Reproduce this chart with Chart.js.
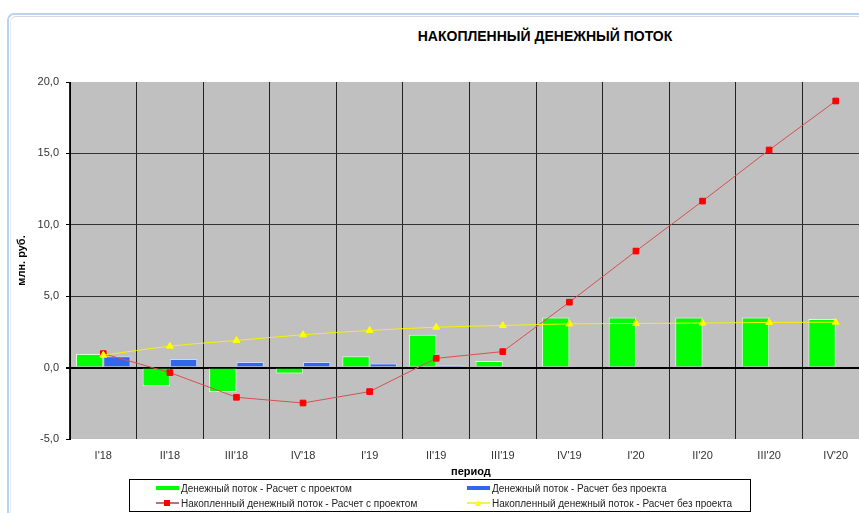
<!DOCTYPE html>
<html>
<head>
<meta charset="utf-8">
<script src="https://cdn.jsdelivr.net/npm/chart.js@4"></script>
<style>
    html, body { margin: 0; padding: 0; background: #fff; overflow: hidden; width: 859px; height: 513px; }
    #wrap { position: relative; width: 859px; height: 513px; overflow: hidden; font-family: "Liberation Sans", Arial, sans-serif; }
    #frame { position: absolute; left: 7px; top: 13px; width: 900px; height: 520px; border-top: 2px solid #b9d3ee; border-left: 2px solid #b9d3ee; border-top-left-radius: 7px; }
    #frame-inner { position: absolute; left: 10px; top: 16px; width: 900px; height: 520px; border-top: 1px solid #d8d8d8; border-left: 1px solid #e4eef8; border-top-left-radius: 6px; }
    #chart-title { position: absolute; left: 0; width: 1090px; top: 28px; text-align: center; font-weight: bold; font-size: 14px; color: #000; }
    #x-title { position: absolute; left: 451px; top: 465px; font-weight: bold; font-size: 11px; color: #000; }
    canvas { position: absolute; left: 0; top: 0; }
    #legend { position: absolute; left: 129px; top: 479px; width: 620px; height: 31px; border: 1px solid #000; background: #fff; }
    .item { position: absolute; font-size: 10px; color: #222; white-space: nowrap; display: flex; align-items: center; height: 12px; }
    .sw { position: relative; width: 23px; height: 10px; margin-right: 2px; }
</style>
</head>
<body>
<div id="wrap">
    <div id="frame"></div>
    <div id="frame-inner"></div>
    <div id="chart-title">НАКОПЛЕННЫЙ ДЕНЕЖНЫЙ ПОТОК</div>
    <canvas id="cash-chart" width="874" height="476"></canvas>
    <div id="x-title">период</div>
    <div id="legend"></div>
</div>
<script>
    const periods = ["I'18", "II'18", "III'18", "IV'18", "I'19", "II'19", "III'19", "IV'19", "I'20", "II'20", "III'20", "IV'20"];

    const flowWithProject = [0.95, -1.3, -1.7, -0.42, 0.8, 2.3, 0.47, 3.5, 3.5, 3.5, 3.5, 3.4];
    const flowWithoutProject = [0.8, 0.6, 0.4, 0.4, 0.28, 0.16, 0.1, 0.08, 0, 0, 0, 0];
    const cumWithProject = [0.98, -0.35, -2.08, -2.48, -1.68, 0.65, 1.12, 4.58, 8.16, 11.66, 15.24, 18.67];
    const cumWithoutProject = [0.87, 1.5, 1.9, 2.3, 2.6, 2.83, 2.95, 3.06, 3.09, 3.12, 3.16, 3.18];

    const seriesNames = [
        'Денежный поток - Расчет с проектом',
        'Денежный поток - Расчет без проекта',
        'Накопленный денежный поток - Расчет с проектом',
        'Накопленный денежный поток - Расчет без проекта'
    ];

    const yMin = -5, yMax = 20, yStep = 5;

    const plotBackground = {
        id: 'plotBackground',
        beforeDraw(chart) {
            const { ctx, chartArea: a } = chart;
            ctx.save();
            ctx.fillStyle = '#c0c0c0';
            ctx.fillRect(a.left, a.top, a.right - a.left, a.bottom - a.top);
            ctx.restore();
        }
    };

    const font = { family: '"Liberation Sans", Arial, sans-serif', size: 11 };

    new Chart(document.getElementById('cash-chart'), {
        type: 'bar',
        data: {
            labels: periods,
            datasets: [
                {
                    type: 'line', label: seriesNames[3], data: cumWithoutProject, order: 0,
                    borderColor: '#f4f400', borderWidth: 1, backgroundColor: '#ffff00',
                    pointStyle: 'triangle', pointRadius: 4, pointBackgroundColor: '#ffff00', pointBorderColor: '#ffff00',
                    tension: 0.3, cubicInterpolationMode: 'monotone'
                },
                {
                    type: 'line', label: seriesNames[2], data: cumWithProject, order: 1,
                    borderColor: '#d85050', borderWidth: 1, backgroundColor: '#ff0000',
                    pointStyle: 'rect', pointRadius: 4, pointBackgroundColor: '#ff0000', pointBorderColor: '#ff0000',
                    tension: 0
                },
                {
                    label: seriesNames[0], data: flowWithProject, order: 2,
                    backgroundColor: '#00ff00', borderColor: '#d8ffd8', borderWidth: 1,
                    categoryPercentage: 0.82, barPercentage: 1
                },
                {
                    label: seriesNames[1], data: flowWithoutProject, order: 2,
                    backgroundColor: '#3366ee', borderColor: '#c8d8ff', borderWidth: 1,
                    categoryPercentage: 0.82, barPercentage: 1
                }
            ]
        },
        options: {
            responsive: false,
            animation: false,
            layout: { padding: { top: 82, right: 0, left: 0, bottom: 0 } },
            plugins: {
                legend: { display: false },
                tooltip: { enabled: false }
            },
            scales: {
                x: {
                    grid: { color: '#222', lineWidth: 1, drawTicks: false, offset: true },
                    border: { display: false },
                    ticks: { font: font, color: '#333', padding: 10, maxRotation: 0, autoSkip: false },
                    afterFit: s => { s.height = 37; }
                },
                y: {
                    min: yMin, max: yMax,
                    grid: {
                        color: c => (c.tick.value === yMax || c.tick.value === yMin) ? 'rgba(0,0,0,0)' : (c.tick.value === 0 ? '#000' : '#333'),
                        lineWidth: c => c.tick.value === 0 ? 2 : 1,
                        tickColor: '#000', tickLength: 4
                    },
                    border: { display: true, color: '#000', width: 1 },
                    ticks: {
                        stepSize: yStep, font: font, color: '#333', padding: 7,
                        callback: v => v.toFixed(1).replace('.', ',')
                    },
                    title: { display: true, text: 'млн. руб.', font: { ...font, weight: 'bold' }, color: '#000', padding: { top: 15, bottom: 0 } },
                    afterFit: s => { s.width = 70; }
                }
            }
        },
        plugins: [plotBackground]
    });

    // legend, same order as the original
    const legendItems = [
        { name: seriesNames[0], kind: 'bar', color: '#00ff00', x: 26, y: 2 },
        { name: seriesNames[1], kind: 'bar', color: '#3366ee', x: 337, y: 2 },
        { name: seriesNames[2], kind: 'rect', color: '#ff0000', line: '#c07070', x: 26, y: 17 },
        { name: seriesNames[3], kind: 'tri', color: '#ffff00', line: '#f0f060', x: 337, y: 17 }
    ];
    const legend = document.getElementById('legend');
    legendItems.forEach(it => {
        const el = document.createElement('div');
        el.className = 'item';
        el.style.left = it.x + 'px';
        el.style.top = it.y + 'px';
        let sw = '';
        if (it.kind === 'bar') {
            sw = `<div class="sw"><div style="position:absolute;left:0;top:3px;width:23px;height:4px;background:${it.color}"></div></div>`;
        } else {
            const marker = it.kind === 'rect'
                ? `<div style="position:absolute;left:8px;top:2px;width:6px;height:6px;background:${it.color}"></div>`
                : `<div style="position:absolute;left:8px;top:2px;width:0;height:0;border-left:3px solid transparent;border-right:3px solid transparent;border-bottom:6px solid ${it.color}"></div>`;
            sw = `<div class="sw"><div style="position:absolute;left:0;top:4px;width:23px;height:2px;background:${it.line}"></div>${marker}</div>`;
        }
        el.innerHTML = sw + `<span>${it.name}</span>`;
        legend.appendChild(el);
    });
</script>
</body>
</html>
